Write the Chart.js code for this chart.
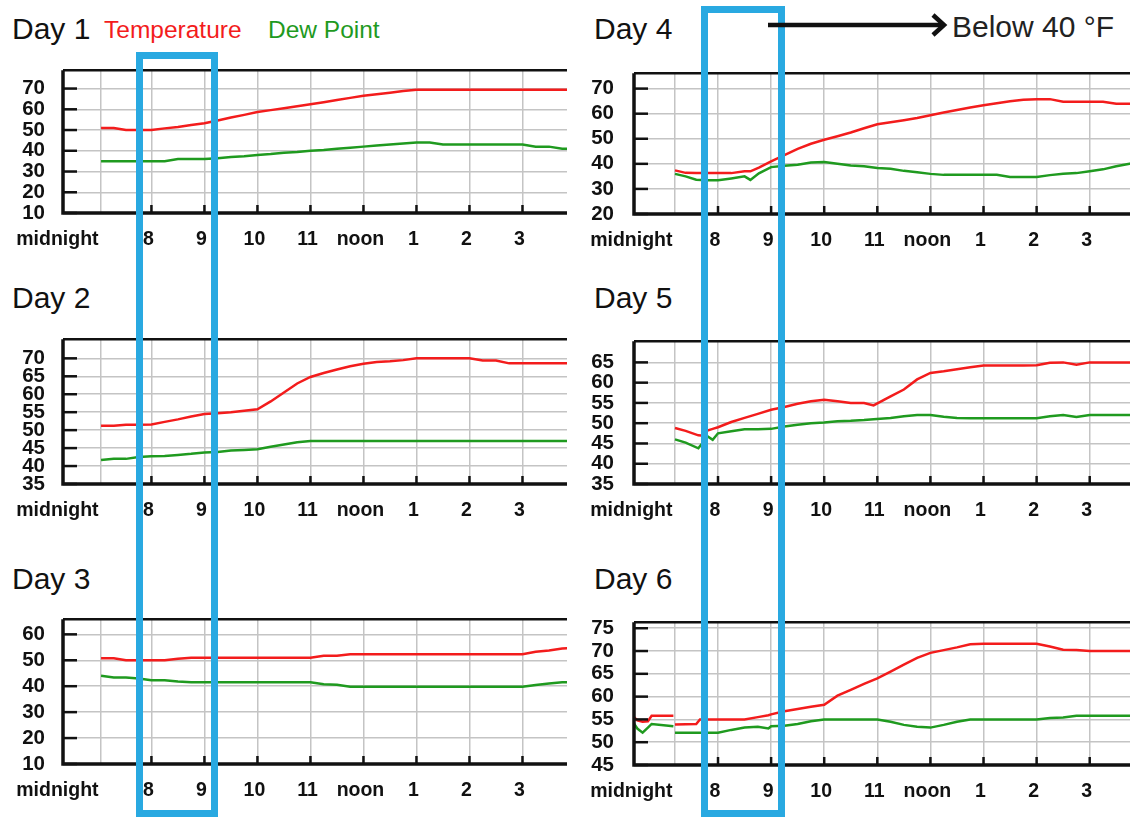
<!DOCTYPE html>
<html>
<head>
<meta charset="utf-8">
<script src="https://cdn.jsdelivr.net/npm/chart.js@4.4.1/dist/chart.umd.min.js"></script>
<style>
  html, body { margin: 0; padding: 0; background: #fff; }
  body { width: 1130px; height: 817px; position: relative; overflow: hidden;
         font-family: "Liberation Sans", Arial, sans-serif; }
  canvas { position: absolute; }
  .title { position: absolute; font-size: 30px; line-height: 30px; color: #111; white-space: nowrap; }
  .legend { position: absolute; font-size: 24.5px; line-height: 24.5px; white-space: nowrap; }
  .box { position: absolute; box-sizing: border-box; border: 7px solid #29a9e1; z-index: 5; }
  svg { position: absolute; left: 0; top: 0; z-index: 6; }
</style>
</head>
<body>

<div class="title" style="left:12px; top:14px">Day 1</div>
<div class="legend" style="left:104px; top:18px; color:#f31c1c">Temperature</div>
<div class="legend" style="left:268px; top:18px; color:#1f9a1f">Dew Point</div>
<div class="title" style="left:12px; top:283px">Day 2</div>
<div class="title" style="left:12px; top:564px">Day 3</div>
<div class="title" style="left:594px; top:14px">Day 4</div>
<div class="title" style="left:594px; top:283px">Day 5</div>
<div class="title" style="left:594px; top:564px">Day 6</div>
<div class="title" style="left:952px; top:12px; color:#222">Below 40 °F</div>

<canvas id="day1" width="576" height="223" style="left:0; top:40px"></canvas>
<canvas id="day2" width="576" height="225" style="left:0; top:309px"></canvas>
<canvas id="day3" width="576" height="225" style="left:0; top:589px"></canvas>
<canvas id="day4" width="570" height="223" style="left:570px; top:41px"></canvas>
<canvas id="day5" width="570" height="225" style="left:570px; top:309px"></canvas>
<canvas id="day6" width="570" height="225" style="left:570px; top:590px"></canvas>

<div class="box" style="left:136px; top:52px; width:82px; height:765px"></div>
<div class="box" style="left:701px; top:6px; width:84px; height:811px"></div>

<svg width="1130" height="60">
  <line x1="768" y1="25" x2="942" y2="25" stroke="#111" stroke-width="4.5"/>
  <polyline points="933,15 944,25 933,35" fill="none" stroke="#111" stroke-width="4.5"/>
</svg>

<script>
/*====================================
        Temperature / dew point data
====================================*/

const xLabels = ["midnight", "8", "9", "10", "11", "noon", "1", "2", "3"];
const xTicksLeft = [7.05, 8, 9, 10, 11, 12, 13, 14, 15];
const xTicksRight = [7.19, 8, 9, 10, 11, 12, 13, 14, 15];

// left column (days 1-3) share one time axis
const hoursLeft = [7.05, 7.29, 7.52, 7.76, 8, 8.25, 8.5, 8.75, 9, 9.25, 9.5, 9.75, 10, 10.25, 10.5, 10.75,
    11, 11.25, 11.5, 11.75, 12, 12.25, 12.5, 12.75, 13, 13.25, 13.5, 13.75, 14, 14.25, 14.5, 14.75,
    15, 15.25, 15.5, 15.75, 16];

const day1Temp = [51, 51, 50, 50, 50, 50.8, 51.5, 52.4, 53.3, 54.6, 56, 57.3, 58.7, 59.6, 60.5, 61.5,
    62.4, 63.4, 64.5, 65.5, 66.5, 67.3, 68, 68.8, 69.4, 69.4, 69.4, 69.4, 69.4, 69.4, 69.4, 69.4,
    69.4, 69.4, 69.4, 69.4, 69.4];
const day1Dew = [35, 35, 35, 35, 35, 35, 36, 36, 36, 36.4, 37, 37.4, 38, 38.4, 39, 39.4,
    40, 40.4, 41, 41.5, 42, 42.5, 43, 43.5, 44, 44, 43, 43, 43, 43, 43, 43,
    43, 42, 42, 41, 41];
const day1YTicks = [10, 20, 30, 40, 50, 60, 70];

const day2Temp = [51.2, 51.2, 51.5, 51.5, 51.6, 52.3, 53, 53.8, 54.5, 54.7, 55, 55.4, 55.8, 58, 60.5, 63,
    64.8, 65.9, 66.9, 67.8, 68.5, 69, 69.2, 69.5, 70, 70, 70, 70, 70, 69.4, 69.4, 68.6,
    68.6, 68.6, 68.6, 68.6, 68.6];
const day2Dew = [41.7, 42, 42, 42.5, 42.7, 42.8, 43.1, 43.4, 43.8, 43.9, 44.3, 44.5, 44.7, 45.4, 46, 46.6,
    47, 47, 47, 47, 47, 47, 47, 47, 47, 47, 47, 47, 47, 47, 47, 47,
    47, 47, 47, 47, 47];
const day2YTicks = [35, 40, 45, 50, 55, 60, 65, 70];

const day3Temp = [50.8, 50.8, 50, 50, 50, 50, 50.6, 51, 51, 51, 51, 51, 51, 51, 51, 51,
    51, 51.7, 51.7, 52.3, 52.3, 52.3, 52.3, 52.3, 52.3, 52.3, 52.3, 52.3, 52.3, 52.3, 52.3, 52.3,
    52.3, 53.3, 53.8, 54.5, 55];
const day3Dew = [44, 43.4, 43.4, 43, 42.3, 42.3, 41.8, 41.5, 41.5, 41.5, 41.5, 41.5, 41.5, 41.5, 41.5, 41.5,
    41.5, 40.8, 40.6, 39.8, 39.8, 39.8, 39.8, 39.8, 39.8, 39.8, 39.8, 39.8, 39.8, 39.8, 39.8, 39.8,
    39.8, 40.5, 41, 41.5, 41.5];
const day3YTicks = [10, 20, 30, 40, 50, 60];

// right column (days 4-6)
const day4Hours = [7.19, 7.39, 7.59, 7.8, 8, 8.25, 8.5, 8.61, 8.77, 9, 9.25, 9.5, 9.75, 10, 10.25, 10.5,
    10.75, 11, 11.25, 11.5, 11.75, 12, 12.25, 12.5, 12.75, 13, 13.25, 13.5, 13.75, 14, 14.25, 14.5,
    14.75, 15, 15.25, 15.5, 15.75, 16];
const day4Temp = [37.4, 36.4, 36.3, 36.3, 36.3, 36.3, 37, 37, 38.5, 41, 43.5, 46, 48, 49.6, 51, 52.5,
    54.2, 55.8, 56.6, 57.4, 58.3, 59.4, 60.5, 61.5, 62.5, 63.4, 64.2, 65, 65.6, 65.8, 65.8, 64.8,
    64.8, 64.8, 64.8, 64, 64, 64];
const day4Dew = [36, 35, 33.7, 33.5, 33.5, 34.2, 35, 33.6, 36.2, 38.7, 39.2, 39.6, 40.5, 40.7, 40, 39.3,
    39, 38.3, 38, 37.2, 36.6, 36, 35.6, 35.6, 35.6, 35.6, 35.6, 34.8, 34.8, 34.8, 35.5, 36,
    36.3, 37, 37.8, 39, 40, 40.5];
const day4YTicks = [20, 30, 40, 50, 60, 70];

const day5Hours = [7.19, 7.39, 7.63, 7.73, 7.8, 7.9, 8, 8.25, 8.5, 8.75, 9, 9.25, 9.5, 9.75, 10, 10.25,
    10.5, 10.75, 10.93, 11.25, 11.5, 11.75, 12, 12.25, 12.5, 12.75, 13, 13.25, 13.5, 13.75, 14, 14.25,
    14.5, 14.75, 15, 15.25, 15.5, 15.75, 16];
const day5Temp = [48.8, 48.1, 47, 46.9, 48.2, 48.6, 49, 50.3, 51.3, 52.3, 53.3, 54, 54.8, 55.4, 55.8, 55.4,
    55, 55, 54.4, 56.6, 58.3, 60.8, 62.4, 62.8, 63.3, 63.8, 64.2, 64.2, 64.2, 64.2, 64.3, 64.9,
    65, 64.4, 65, 65, 65, 65, 65];
const day5Dew = [46, 45.2, 43.8, 45.5, 46.8, 45.9, 47.5, 48, 48.5, 48.5, 48.6, 49.2, 49.6, 50, 50.2, 50.5,
    50.6, 50.8, 51, 51.3, 51.7, 52, 52, 51.6, 51.3, 51.2, 51.2, 51.2, 51.2, 51.2, 51.2, 51.7,
    52, 51.5, 52, 52, 52, 52, 52];
const day5YTicks = [35, 40, 45, 50, 55, 60, 65];

// day 6 has a short break in the record just before the first grid line
const day6Hours = [6.41, 6.48, 6.58, 6.68, 6.75, 7.16, 7.175, 7.19, 7.59, 7.66, 7.8, 8, 8.25, 8.5, 8.75, 8.95,
    9, 9.25, 9.5, 9.75, 10, 10.25, 10.5, 10.75, 11, 11.25, 11.5, 11.75, 12, 12.25, 12.5, 12.75,
    13, 13.25, 13.5, 13.75, 14, 14.25, 14.5, 14.75, 15, 15.25, 15.5, 15.75, 16];
const day6Temp = [55.6, 54.8, 54.5, 54.6, 55.8, 55.8, null, 53.9, 54, 55, 55, 55, 55, 55, 55.5, 55.9,
    56.1, 56.8, 57.3, 57.8, 58.2, 60.2, 61.5, 62.8, 64, 65.5, 67, 68.5, 69.6, 70.2, 70.8, 71.5,
    71.6, 71.6, 71.6, 71.6, 71.6, 71, 70.3, 70.2, 70, 70, 70, 70, 70];
const day6Dew = [54.2, 53, 52.1, 53.2, 54, 53.5, null, 52.1, 52.1, 52.1, 52.1, 52.1, 52.7, 53.2, 53.4, 53,
    53.5, 53.6, 54, 54.6, 55, 55, 55, 55, 55, 54.5, 53.8, 53.4, 53.2, 53.8, 54.5, 55,
    55, 55, 55, 55, 55, 55.3, 55.4, 55.8, 55.8, 55.8, 55.8, 55.8, 55.8];
const day6YTicks = [45, 50, 55, 60, 65, 70, 75];

/*====================================
        Chart setup
====================================*/

const axisFamily = '"Liberation Sans", Arial, sans-serif';
const xFont = { family: axisFamily, size: 19.5, weight: "bold" };
const yFont = { family: axisFamily, size: 20.5, weight: "bold" };
const gridGray = "#c4c4c4";

// pad the first label so it sits to the left of its grid line, like the original
function shiftedLabel(text, shift) {
    const c = document.createElement("canvas").getContext("2d");
    c.font = "bold 19.5px " + axisFamily;
    const w = c.measureText("\u00a0").width;
    return text + "\u00a0".repeat(Math.round(2 * shift / w));
}

const framePlugin = {
    id: "frame",
    afterDatasetsDraw(chart) {
        const { ctx, chartArea: a, scales: { x, y } } = chart;
        ctx.save();
        ctx.strokeStyle = "#111";
        ctx.lineWidth = 2.5;
        y.ticks.forEach(t => {
            const py = y.getPixelForValue(t.value);
            ctx.beginPath();
            ctx.moveTo(a.left, py);
            ctx.lineTo(a.left + 14, py);
            ctx.stroke();
        });
        x.ticks.slice(1).forEach(t => {
            const px = x.getPixelForValue(t.value);
            ctx.beginPath();
            ctx.moveTo(px, a.bottom);
            ctx.lineTo(px, a.bottom - 8);
            ctx.stroke();
        });
        ctx.lineWidth = 2.5;
        ctx.beginPath();
        ctx.moveTo(a.left, a.top);
        ctx.lineTo(a.right, a.top);
        ctx.stroke();
        ctx.lineWidth = 3.5;
        ctx.beginPath();
        ctx.moveTo(a.left, a.top);
        ctx.lineTo(a.left, a.bottom);
        ctx.lineTo(a.right, a.bottom);
        ctx.stroke();
        ctx.restore();
    }
};

function makeDay(id, hours, temp, dew, yTicks, yMax, col) {
    const left = col === "left";
    const xTicks = left ? xTicksLeft : xTicksRight;
    const yMin = yTicks[0];
    const firstLabel = shiftedLabel(xLabels[0], 40);

    return new Chart(document.getElementById(id), {
        type: "line",
        data: {
            datasets: [{
                label: "Temperature",
                data: hours.map((h, i) => ({ x: h, y: temp[i] })),
                borderColor: "#f31c1c",
                borderWidth: 2.5,
                pointRadius: 0,
                tension: 0
            }, {
                label: "Dew Point",
                data: hours.map((h, i) => ({ x: h, y: dew[i] })),
                borderColor: "#1f9a1f",
                borderWidth: 2.5,
                pointRadius: 0,
                tension: 0
            }]
        },
        options: {
            responsive: false,
            animation: false,
            events: [],
            layout: { padding: { top: 14, right: left ? 9 : 0, bottom: 0, left: 0 } },
            plugins: { legend: { display: false }, tooltip: { enabled: false } },
            scales: {
                x: {
                    type: "linear",
                    min: left ? 6.332 : 6.418,
                    max: left ? 15.84 : 15.947,
                    afterBuildTicks: s => { s.ticks = xTicks.map(v => ({ value: v })); },
                    afterFit: s => { s.height = 50; s.paddingLeft = 0; s.paddingRight = 0; },
                    ticks: {
                        autoSkip: false,
                        maxRotation: 0,
                        padding: 15,
                        labelOffset: -3,
                        color: "#111",
                        font: xFont,
                        callback: (v, i) => i === 0 ? firstLabel : xLabels[i]
                    },
                    grid: { color: gridGray, lineWidth: 1.5, drawTicks: false },
                    border: { display: false }
                },
                y: {
                    min: yMin,
                    max: yMax,
                    afterBuildTicks: s => { s.ticks = yTicks.map(v => ({ value: v })); },
                    afterFit: s => { s.width = left ? 63 : 64; },
                    ticks: { autoSkip: false, padding: left ? 18 : 20, color: "#111", font: yFont },
                    grid: {
                        color: c => c.tick && c.tick.value === yMin ? "rgba(0,0,0,0)" : gridGray,
                        lineWidth: 1.5,
                        drawTicks: false
                    },
                    border: { display: false }
                }
            }
        },
        plugins: [framePlugin]
    });
}

makeDay("day1", hoursLeft, day1Temp, day1Dew, day1YTicks, 78.8, "left");
makeDay("day2", hoursLeft, day2Temp, day2Dew, day2YTicks, 75.3, "left");
makeDay("day3", hoursLeft, day3Temp, day3Dew, day3YTicks, 65.8, "left");
makeDay("day4", day4Hours, day4Temp, day4Dew, day4YTicks, 76.1, "right");
makeDay("day5", day5Hours, day5Temp, day5Dew, day5YTicks, 70.2, "right");
makeDay("day6", day6Hours, day6Temp, day6Dew, day6YTicks, 76.3, "right");
</script>
</body>
</html>
